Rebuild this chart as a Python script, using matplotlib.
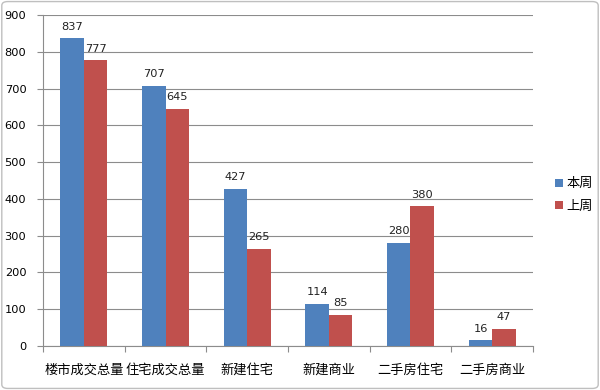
import matplotlib
matplotlib.use("Agg")
import matplotlib.pyplot as plt
import numpy as np
from matplotlib.patches import FancyBboxPatch

plt.rcParams['font.family'] = ['Noto Sans CJK SC', 'DejaVu Sans']

categories = ["楼市成交总量", "住宅成交总量", "新建住宅", "新建商业", "二手房住宅", "二手房商业"]
this_week = [837, 707, 427, 114, 280, 16]
last_week = [777, 645, 265, 85, 380, 47]
series_names = ["本周", "上周"]
yticks = [0, 100, 200, 300, 400, 500, 600, 700, 800, 900]

blue = "#4F81BD"
red = "#C0504D"

fig = plt.figure(figsize=(6, 3.9), dpi=100)
ax = fig.add_axes([0.0717, 0.1128, 0.8166, 0.8487])

x = np.arange(len(categories))
w = 0.286
b1 = ax.bar(x - w/2, this_week, w, color=blue, label=series_names[0], zorder=3)
b2 = ax.bar(x + w/2, last_week, w, color=red, label=series_names[1], zorder=3)

for bars, vals in ((b1, this_week), (b2, last_week)):
    for r, v in zip(bars, vals):
        ax.text(r.get_x() + r.get_width()/2, v + 18, str(v), ha='center', va='bottom',
                fontsize=8.2, family='DejaVu Sans', color='#222222')

ax.set_xlim(-0.5, len(categories) - 0.5)
ax.set_ylim(0, 900)
ax.set_yticks(yticks)
ax.set_yticklabels([str(t) for t in yticks], fontsize=8.2, family='DejaVu Sans')
ax.yaxis.grid(True, color='#8c8c8c', linewidth=0.8, zorder=0)
ax.set_axisbelow(True)

ax.set_xticks(np.arange(-0.5, len(categories) + 0.5, 1.0))
ax.set_xticklabels([])
ax.set_xticks(x, minor=True)
ax.set_xticklabels(categories, minor=True, fontsize=9.5)
ax.tick_params(axis='x', which='minor', length=0, pad=13)
ax.tick_params(axis='x', which='major', length=4, color='#8c8c8c', direction='out')
ax.tick_params(axis='y', length=4, color='#8c8c8c', pad=8)

for s in ('top', 'right'):
    ax.spines[s].set_visible(False)
for s in ('left', 'bottom'):
    ax.spines[s].set_color('#8c8c8c')
    ax.spines[s].set_linewidth(0.8)

leg = fig.legend(handles=[b1, b2], labels=series_names, loc='center left',
                 bbox_to_anchor=(0.905, 0.50), frameon=False, fontsize=9.5,
                 handlelength=0.6, handleheight=0.6, handletextpad=0.3, labelspacing=0.7)

border = FancyBboxPatch((0.003, 0.004), 0.994, 0.992, boxstyle="round,pad=0,rounding_size=0.01",
                        transform=fig.transFigure, fill=False, edgecolor='#bfbfbf', linewidth=1)
fig.patches.append(border)

fig.savefig("out.png", dpi=100)
